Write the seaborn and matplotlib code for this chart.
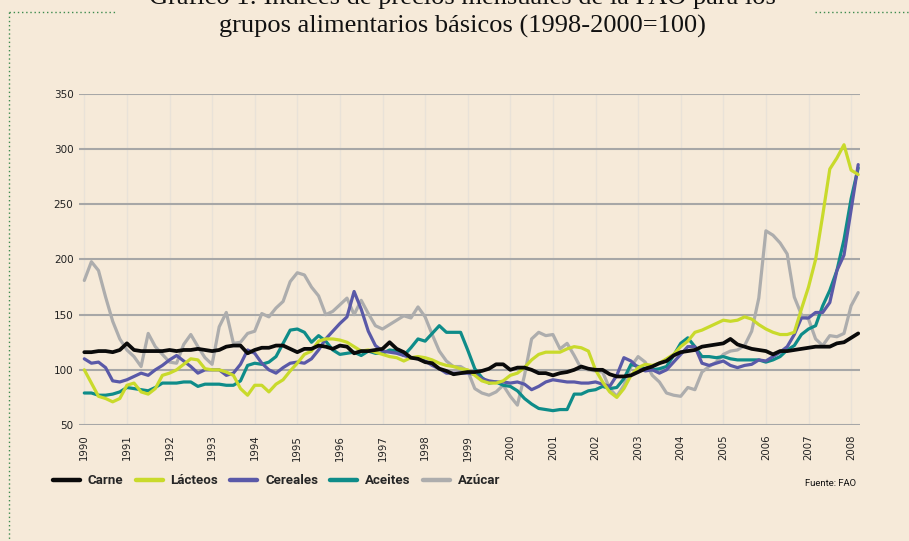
import numpy as np
import pandas as pd
import matplotlib
matplotlib.use("Agg")
import matplotlib.pyplot as plt
from matplotlib.lines import Line2D
import seaborn as sns

# ---- data (bimonthly readings, Jan 1990 .. Mar 2008) ----
inicio = 1990.0
paso_meses = 2

carne = [116,116,117,117,116,118,124,118,117,117,
         117,117,118,117,118,118,119,118,117,118,
         121,122,122,115,118,120,120,122,122,119,
         116,119,119,122,121,119,122,121,115,117,
         117,118,119,125,119,116,111,110,107,106,
         101,99,96,97,98,98,99,101,105,105,
         100,102,102,100,97,97,95,97,98,100,
         103,101,100,100,96,94,94,95,98,101,
         103,106,108,113,116,117,118,121,122,123,
         124,128,123,121,119,118,117,114,117,117,
         118,119,120,121,121,121,124,125,129,133]

lacteos = [100,88,76,74,71,74,86,88,80,78,
           83,95,97,100,105,110,109,101,100,100,
           98,95,83,77,86,86,80,87,91,99,
           106,114,117,126,128,128,127,125,121,117,
           118,116,114,112,111,108,111,112,111,109,
           106,104,103,101,100,95,90,88,88,90,
           95,97,102,109,114,116,116,116,119,121,
           120,117,100,89,80,75,83,95,102,105,
           104,106,110,114,121,126,134,136,139,142,
           145,144,145,148,146,141,137,134,132,132,
           134,155,175,200,240,282,292,304,281,277]

cereales = [110,106,107,102,90,89,91,94,97,95,
            100,104,109,113,108,103,97,100,100,100,
            95,97,105,118,115,106,100,97,102,106,
            107,106,110,118,128,135,142,148,171,155,
            135,122,117,116,115,113,111,110,108,104,
            101,97,97,97,97,96,92,90,89,89,
            88,89,87,82,85,89,91,90,89,89,
            88,88,89,87,85,95,111,108,102,99,
            100,97,100,107,114,121,121,106,104,106,
            108,104,102,104,105,109,108,112,116,121,
            132,147,147,152,152,161,190,204,245,286]

aceites = [79,79,77,77,78,80,84,83,82,81,
           84,88,88,88,89,89,85,87,87,87,
           86,86,90,104,106,105,107,112,124,136,
           137,134,125,131,126,118,114,115,116,113,
           117,115,115,118,117,113,120,128,126,133,
           140,134,134,134,118,101,93,88,89,86,
           85,81,74,69,65,64,63,64,64,78,
           78,81,82,85,83,84,92,105,103,101,
           100,101,103,113,124,129,121,112,112,111,
           112,110,109,109,109,109,107,109,112,118,
           122,132,137,140,158,172,190,218,255,283]

azucar = [181,198,190,166,144,128,118,112,103,133,
          121,114,107,106,123,132,121,111,105,139,
          152,124,125,133,135,151,148,156,162,180,
          188,186,175,167,150,153,159,165,150,163,
          151,140,137,141,145,149,147,157,148,132,
          117,108,103,103,99,83,79,77,80,86,
          76,68,95,128,134,131,132,119,124,113,
          101,100,99,98,83,76,86,103,112,107,
          95,89,79,77,76,84,82,98,103,107,
          114,117,118,122,135,165,226,222,215,205,
          166,150,146,128,122,131,130,133,158,170]

grupos = ["Carne", "Lácteos", "Cereales", "Aceites", "Azúcar"]
series = [carne, lacteos, cereales, aceites, azucar]
colores = ["#0A0A0A", "#C9DA2B", "#5A59A8", "#0E8C89", "#ADADAD"]
anios_ticks = list(range(1990, 2009))
y_ticks = [50, 100, 150, 200, 250, 300, 350]

n = len(carne)
x = inicio + np.arange(n) * paso_meses / 12.0
df = pd.concat([pd.DataFrame({"anio": x, "indice": v, "grupo": g})
                for g, v in zip(grupos, series)], ignore_index=True)

bg = "#F6EAD9"
sns.set_style("white", {"axes.facecolor": bg, "figure.facecolor": bg})
plt.rcParams["font.family"] = ["DejaVu Sans"]

W, H = 909, 541
fig = plt.figure(figsize=(W / 100, H / 100), dpi=100, facecolor=bg)
ax = fig.add_axes([79 / W, 1 - 425 / H, (860 - 79) / W, (425 - 94) / H])
ax.set_facecolor(bg)

pal = dict(zip(grupos, colores))
orden_dibujo = ["Azúcar", "Aceites", "Cereales", "Lácteos", "Carne"]
for i, g in enumerate(orden_dibujo):
    sns.lineplot(data=df[df["grupo"] == g], x="anio", y="indice",
                 color=pal[g], linewidth=2.7 if g == "Carne" else 2.3,
                 errorbar=None, legend=False, ax=ax, zorder=3 + i)

ax.set_xlim(1990 - 5.3 / 42.6, 1990 + (860 - 84.3) / 42.6)
ax.set_ylim(50, 350)
ax.set_xticks(anios_ticks)
ax.set_xticklabels([str(a) for a in anios_ticks], rotation=90, fontsize=7.3,
                   color="#222222")
ax.set_yticks(y_ticks)
ax.set_yticklabels([str(v) for v in y_ticks], fontsize=7.5, color="#222222")
ax.tick_params(axis="x", length=0, pad=7)
ax.tick_params(axis="y", length=0, pad=4)
ax.set_xlabel("")
ax.set_ylabel("")
ax.set_axisbelow(True)
ax.yaxis.grid(True, color="#A7A7A7", linewidth=1.5)
ax.xaxis.grid(True, color="#E9E2D8", linewidth=1.0)
for s in ax.spines.values():
    s.set_visible(False)

# title (first line partially cut at top edge, as in the reference)
serif = ["Liberation Serif", "DejaVu Serif"]
fig.text(462 / W, 1 - 4 / H,
         "Gráfico 1: Índices de precios mensuales de la FAO para los",
         ha="center", va="baseline", fontsize=19.0, family=serif, color="#111111")
fig.text(462 / W, 1 - 33 / H,
         "grupos alimentarios básicos (1998-2000=100)",
         ha="center", va="baseline", fontsize=19.0, family=serif, color="#111111")

# dotted decorative frame
verde = "#3D8B4E"
fig.add_artist(Line2D([9 / W, 9 / W], [1 - 12 / H, 0], transform=fig.transFigure,
                      color=verde, lw=1.0, ls=(0, (1, 2))))
fig.add_artist(Line2D([9 / W, 115 / W], [1 - 12 / H, 1 - 12 / H], transform=fig.transFigure,
                      color=verde, lw=1.0, ls=(0, (1, 2))))
fig.add_artist(Line2D([815 / W, 1.0], [1 - 12 / H, 1 - 12 / H], transform=fig.transFigure,
                      color=verde, lw=1.0, ls=(0, (1, 2))))

# legend
cond = ["Roboto", "DejaVu Sans"]
handles = [Line2D([0], [0], color=pal[g], lw=3.2) for g in grupos]
fs = 9.6
fig.legend(handles, grupos, loc="center left",
           bbox_to_anchor=(53 / W, 1 - 481 / H), ncol=5, frameon=False,
           handlelength=27 / (fs * 1.389), handletextpad=8 / (fs * 1.389),
           columnspacing=12 / (fs * 1.389), borderpad=0, borderaxespad=0,
           prop={"family": cond, "weight": "bold", "size": fs})
fig.text(856 / W, 1 - 483 / H, "Fuente: FAO", ha="right", va="center",
         fontsize=6.8, family=cond, color="#111111")

fig.savefig("out.png", dpi=100, facecolor=bg)
